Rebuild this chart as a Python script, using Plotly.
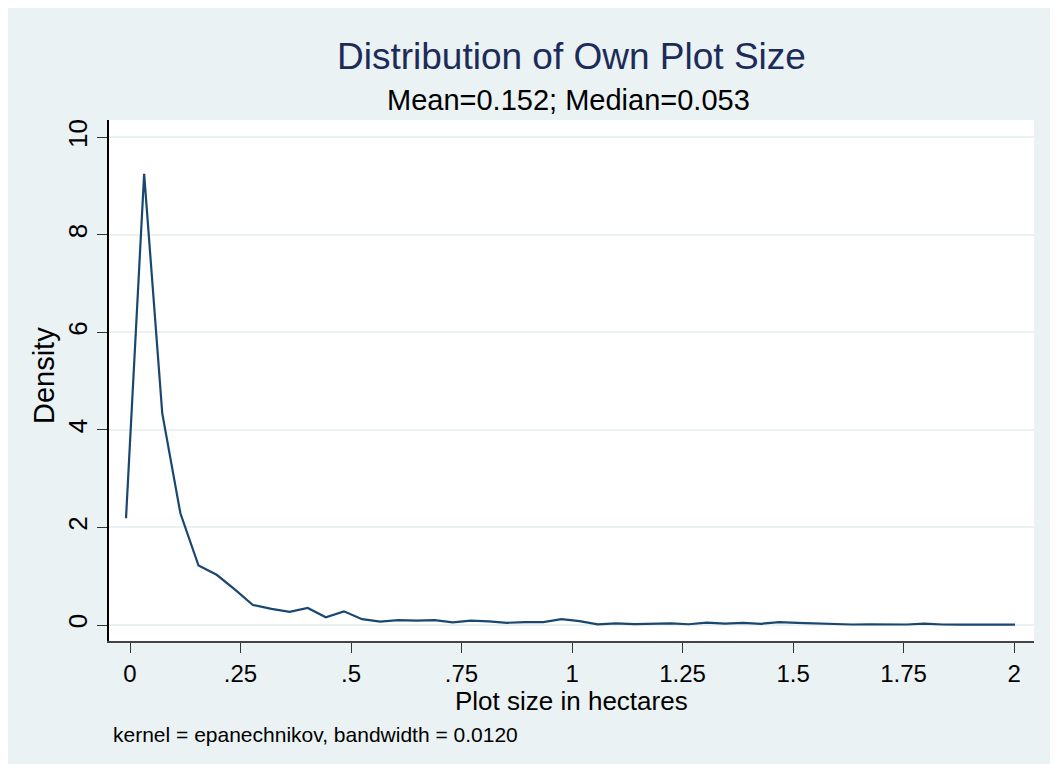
"""Kernel density of own plot size, Stata-style."""

import plotly.graph_objects as go

# evaluation points of the kernel density (hectares)
plot_size = [
    -0.009, 0.032, 0.073, 0.114, 0.155, 0.196, 0.237, 0.278, 0.320, 0.361,
    0.402, 0.443, 0.484, 0.525, 0.566, 0.607, 0.648, 0.689, 0.730, 0.771,
    0.812, 0.853, 0.894, 0.935, 0.976, 1.017, 1.058, 1.099, 1.141, 1.182,
    1.223, 1.264, 1.305, 1.346, 1.387, 1.428, 1.469, 1.510, 1.551, 1.592,
    1.633, 1.674, 1.715, 1.756, 1.797, 1.838, 1.879, 1.920, 1.961, 2.002,
]
density = [
    2.19, 9.25, 4.34, 2.29, 1.22, 1.03, 0.73, 0.41, 0.33, 0.27,
    0.35, 0.16, 0.28, 0.12, 0.07, 0.10, 0.09, 0.10, 0.055, 0.09,
    0.075, 0.045, 0.06, 0.06, 0.12, 0.08, 0.015, 0.035, 0.02, 0.035,
    0.035, 0.015, 0.05, 0.03, 0.045, 0.025, 0.06, 0.045, 0.03, 0.015,
    0.01, 0.012, 0.01, 0.01, 0.03, 0.01, 0.008, 0.008, 0.006, 0.006,
]
x_ticks = [0, 0.25, 0.5, 0.75, 1, 1.25, 1.5, 1.75, 2]
x_tick_text = ["0", ".25", ".5", ".75", "1", "1.25", "1.5", "1.75", "2"]
y_ticks = [0, 2, 4, 6, 8, 10]

BG = "#EAF2F3"
NAVY = "#1A476F"
FONT = "Liberation Sans, Arial, sans-serif"

fig = go.Figure()
fig.add_trace(
    go.Scatter(
        x=plot_size,
        y=density,
        mode="lines",
        line=dict(color=NAVY, width=2.2),
        showlegend=False,
    )
)

fig.update_layout(
    width=1046,
    height=756,
    margin=dict(l=101, r=20, t=112, b=123),
    paper_bgcolor=BG,
    plot_bgcolor="white",
    font=dict(family=FONT, color="black"),
    showlegend=False,
)
fig.update_xaxes(
    range=[-0.0475, 2.045],
    tickvals=x_ticks,
    ticktext=x_tick_text,
    ticks="outside",
    ticklen=10,
    tickcolor="#333",
    tickfont=dict(size=24),
    showline=True,
    linecolor="#444",
    linewidth=1.5,
    showgrid=False,
    zeroline=False,
)
fig.update_yaxes(
    range=[-0.328, 10.355],
    tickvals=y_ticks,
    ticks="outside",
    ticklen=10,
    tickcolor="#333",
    tickangle=-90,
    tickfont=dict(size=26),
    showline=True,
    linecolor="black",
    linewidth=1.5,
    showgrid=True,
    gridcolor=BG,
    gridwidth=2,
    zeroline=False,
)

texts = [
    dict(text="Distribution of Own Plot Size", x=0.5, y=1.121, size=37, color="#1C2C5A"),
    dict(text="Mean=0.152; Median=0.053", x=0.497, y=1.038, size=29, color="black"),
    dict(text="Plot size in hectares", x=0.5, y=-0.116, size=26, color="black"),
]
for t in texts:
    fig.add_annotation(
        text=t["text"], x=t["x"], y=t["y"], xref="paper", yref="paper",
        xanchor="center", yanchor="middle", showarrow=False,
        font=dict(size=t["size"], color=t["color"], family=FONT),
    )
fig.add_annotation(
    text="Density", x=-0.07, y=0.509, xref="paper", yref="paper",
    xanchor="center", yanchor="middle", textangle=-90, showarrow=False,
    font=dict(size=29, color="black", family=FONT),
)
fig.add_annotation(
    text="kernel = epanechnikov, bandwidth = 0.0120", x=0.002, y=-0.179,
    xref="paper", yref="paper", xanchor="left", yanchor="middle",
    showarrow=False, font=dict(size=21, color="black", family=FONT),
)

fig.write_html("out.html")
